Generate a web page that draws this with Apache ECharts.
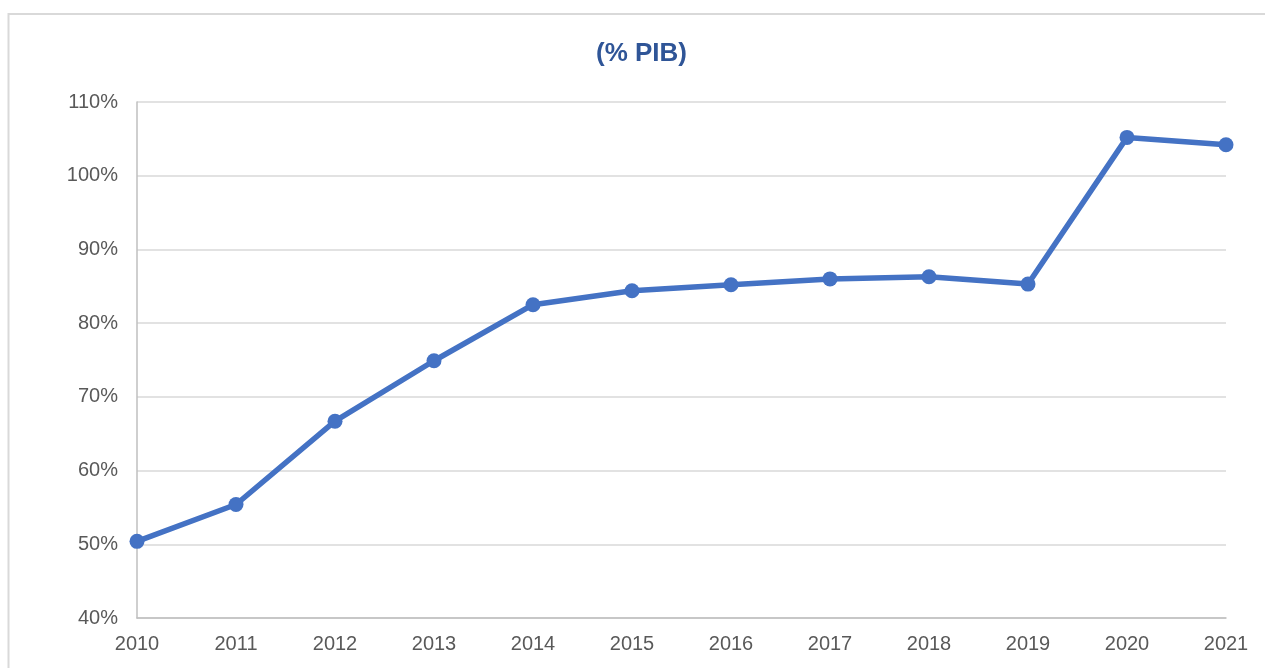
<!DOCTYPE html>
<html>
<head>
<meta charset="utf-8">
<style>
  html, body { margin: 0; padding: 0; background: #fff; }
  #chart { width: 1265px; height: 668px; }
</style>
<script src="https://cdn.jsdelivr.net/npm/echarts@6/dist/echarts.min.js"></script>
</head>
<body>
<div id="chart"></div>
<script>
// data
const years = ['2010', '2011', '2012', '2013', '2014', '2015', '2016', '2017', '2018', '2019', '2020', '2021'];
const debtPctGdp = [50.4, 55.4, 66.7, 74.9, 82.5, 84.4, 85.2, 86.0, 86.3, 85.3, 105.2, 104.2];
const chartTitle = '(% PIB)';

const chart = echarts.init(document.getElementById('chart'));
const option = {
    animation: false,
    backgroundColor: '#fff',
    title: {
        text: chartTitle,
        left: 596,
        top: 41,
        padding: 0,
        textStyle: {
            color: '#2F5597',
            fontWeight: 'bold',
            fontSize: 26,
            fontFamily: 'Liberation Sans'
        }
    },
    // outer frame of the chart area
    graphic: [{
        type: 'rect',
        shape: { x: 8.5, y: 14, width: 1280, height: 700 },
        style: { fill: 'none', stroke: '#d9d9d9', lineWidth: 2 },
        silent: true
    }],
    grid: {
        left: 137,
        right: 39,
        top: 102,
        bottom: 50,
        containLabel: false
    },
    xAxis: {
        type: 'category',
        data: years,
        boundaryGap: false,
        axisLine: { show: true, lineStyle: { color: '#bfbfbf', width: 1.5 } },
        axisTick: { show: false },
        axisLabel: {
            color: '#595959',
            fontSize: 20,
            fontFamily: 'Liberation Sans',
            margin: 16,
            interval: 0
        },
        splitLine: { show: false }
    },
    yAxis: {
        type: 'value',
        min: 40,
        max: 110,
        interval: 10,
        axisLine: { show: true, lineStyle: { color: '#bfbfbf', width: 1.5 } },
        axisTick: { show: false },
        axisLabel: {
            color: '#595959',
            fontSize: 20,
            fontFamily: 'Liberation Sans',
            margin: 19,
            formatter: '{value}%'
        },
        splitLine: { show: true, lineStyle: { color: '#d9d9d9', width: 1.5 } }
    },
    series: [{
        type: 'line',
        data: debtPctGdp,
        symbol: 'circle',
        symbolSize: 15,
        lineStyle: { color: '#4472C4', width: 5.5 },
        itemStyle: { color: '#4472C4' }
    }]
};
chart.setOption(option);
</script>
</body>
</html>
